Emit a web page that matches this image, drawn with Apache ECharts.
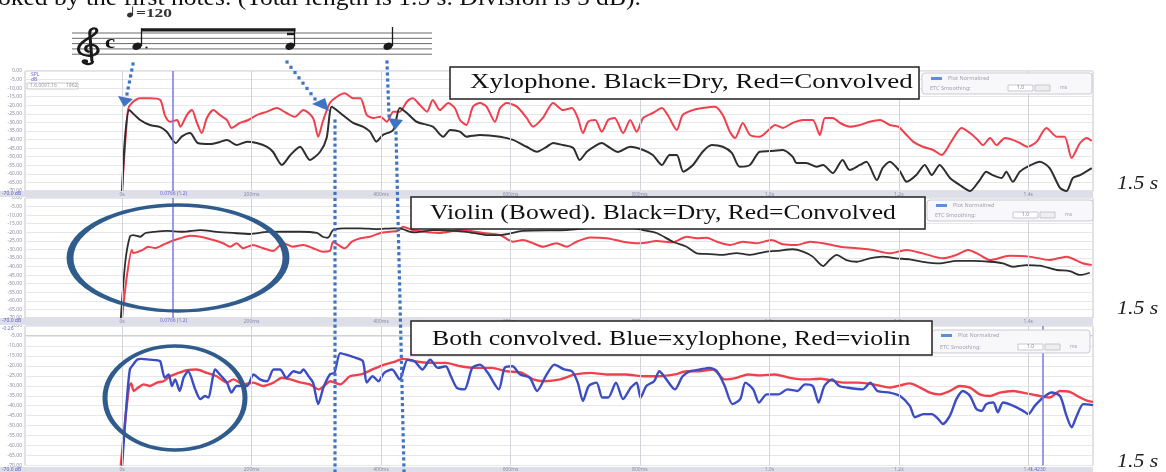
<!DOCTYPE html>
<html>
<head>
<meta charset="utf-8">
<script src="https://cdn.jsdelivr.net/npm/echarts@6/dist/echarts.min.js"></script>
<style>
html, body { margin: 0; padding: 0; background: #fff; }
#chart { width: 1166px; height: 472px; }
</style>
</head>
<body>
<div id="chart"></div>
<script>
// text
const caption = 'oked by the first notes. (Total length is 1.5 s. Division is 5 dB).';
const panelTitles = [
  'Xylophone. Black=Dry, Red=Convolved',
  'Violin (Bowed). Black=Dry, Red=Convolved',
  'Both convolved. Blue=xylophone, Red=violin'
];
const lengthLabel = '1.5 s';
const tempoLabel = '=120';

// time axis (ms) and level axis (dB, 5 dB per division)
const timeTicks = [0, 200, 400, 600, 800, 1000, 1200, 1400];
const cursorMs = [78, 78, 1423];

// panel 1: xylophone
const xyloDry = [[0,-70],[11,-22.8],[28,-28.6],[43,-31.5],[59,-32.7],[69,-35.4],[83,-42],[92,-38.3],[105,-36.2],[117,-42],[136,-42.6],[151,-41.4],[162,-40.2],[177,-43.2],[193,-41.2],[208,-42],[224,-44.2],[233,-47.1],[247,-54.8],[260,-49],[275,-44.2],[290,-51.9],[306,-47.1],[316,-39.1],[324,-20.8],[337,-24.5],[357,-30.3],[372,-32.5],[383,-35.4],[393,-41.2],[403,-37.3],[419,-34.4],[429,-21.6],[440,-24.5],[455,-29.6],[480,-32.5],[496,-38.3],[507,-34.4],[522,-35.4],[532,-38.3],[553,-37.3],[584,-38.3],[604,-40.2],[625,-44.2],[641,-47.1],[656,-44.2],[666,-42],[681,-43.2],[697,-44.9],[707,-51.9],[718,-47.1],[733,-43.2],[741,-42],[754,-44.9],[766,-47.2],[785,-44.2],[805,-46.1],[820,-49],[834,-54.8],[846,-49],[857,-49],[867,-58.7],[882,-54.8],[897,-47.1],[911,-43.2],[928,-44.2],[942,-47.8],[954,-55.8],[970,-54.8],[985,-47.1],[1001,-46.7],[1021,-46.1],[1036,-50],[1042,-53.7],[1057,-53.7],[1073,-55.8],[1083,-54.8],[1098,-59.5],[1113,-51.9],[1124,-57.7],[1140,-54.8],[1150,-52.9],[1166,-63.6],[1175,-56.6],[1186,-52.9],[1202,-58.7],[1212,-64.6],[1227,-60.7],[1240,-54.8],[1251,-60.7],[1263,-54.8],[1279,-62.4],[1294,-66.5],[1310,-70],[1325,-63.6],[1335,-58.7],[1345,-60.7],[1359,-62.4],[1366,-58.7],[1376,-64.6],[1387,-58.7],[1399,-55.8],[1418,-52.9],[1433,-56.6],[1449,-68.2],[1459,-70],[1469,-62.4],[1480,-60.7],[1498,-56.6]];
const xyloWet = [[0,-70],[9,-22.8],[15,-18.7],[28,-15.9],[43,-15.9],[59,-16.9],[66,-25.7],[74,-29.6],[85,-28.6],[90,-32.5],[100,-25.7],[108,-22.8],[115,-29.6],[123,-36.2],[131,-27.4],[141,-22.8],[151,-25.7],[162,-28.6],[169,-33.2],[182,-30.3],[195,-28.6],[208,-25.7],[224,-23.7],[239,-21.6],[254,-24.5],[267,-26.7],[280,-22.8],[295,-27.4],[303,-38.3],[310,-29.6],[321,-18.7],[332,-15],[344,-13],[357,-15.9],[368,-15.9],[378,-25.7],[388,-27.4],[399,-26.7],[409,-29.6],[419,-23.7],[429,-23.7],[440,-17.9],[449,-15.9],[460,-19.8],[471,-23.7],[480,-16.9],[491,-22.8],[504,-18.7],[514,-21.6],[522,-28.6],[532,-31.5],[542,-20.8],[553,-18.7],[563,-20.8],[576,-29.6],[584,-21.6],[594,-18.7],[610,-20.8],[625,-27.4],[635,-32.5],[650,-27.4],[666,-18.7],[681,-22.8],[695,-21.6],[704,-27.4],[712,-36.2],[720,-29.6],[731,-28.6],[741,-35.4],[751,-28.6],[761,-27.4],[774,-36.2],[785,-28.6],[795,-35.4],[805,-27.4],[820,-24.5],[834,-21.6],[843,-25.7],[857,-34.4],[866,-25.7],[882,-22.8],[897,-21.6],[916,-20.8],[928,-25.7],[939,-35.4],[947,-39.1],[959,-30.3],[970,-37.3],[985,-38.3],[996,-35.4],[1009,-31.5],[1021,-33.2],[1036,-30.3],[1052,-28.6],[1067,-28.6],[1078,-37.3],[1086,-27.4],[1098,-27.4],[1109,-30.3],[1124,-32.5],[1140,-31.5],[1155,-29.6],[1171,-28.6],[1186,-31.5],[1199,-32.5],[1212,-37.3],[1222,-41.2],[1237,-44.2],[1253,-46.1],[1266,-49],[1281,-41.2],[1297,-33.2],[1310,-36.2],[1322,-40.2],[1330,-43.2],[1341,-39.1],[1351,-43.2],[1364,-39.1],[1376,-40.2],[1387,-42],[1399,-44.2],[1413,-41.2],[1428,-33.2],[1444,-38.3],[1456,-38.3],[1467,-50.7],[1480,-42],[1490,-39.1],[1498,-40.8]];

// panel 2: bowed violin
const violinDry = [[-2,-70],[5,-37.2],[12,-22.6],[17,-21.6],[28,-22.6],[36,-20.4],[48,-19.8],[69,-19.2],[94,-19.7],[121,-18.7],[146,-19.7],[171,-20.4],[198,-21],[224,-19.8],[249,-19.7],[275,-19.7],[301,-20.4],[310,-22.6],[318,-23.2],[326,-18.7],[341,-17.7],[368,-17.7],[393,-18.1],[419,-17.7],[429,-17.7],[445,-19.7],[455,-20],[480,-18.7],[532,-19.7],[563,-21.6],[584,-21.6],[619,-19.2],[687,-18.7],[723,-17.5],[774,-16.7],[805,-18.7],[826,-20.4],[851,-25.5],[872,-28.4],[888,-32.3],[908,-32.7],[928,-33.2],[949,-32.1],[970,-33.2],[996,-31.3],[1011,-30.9],[1036,-29.9],[1052,-31.3],[1067,-34.2],[1083,-39.7],[1093,-36.2],[1104,-33.2],[1119,-36.2],[1135,-37.2],[1155,-35.2],[1175,-34.2],[1196,-35.2],[1217,-35.8],[1237,-37.2],[1263,-38.1],[1289,-36.7],[1314,-36.7],[1341,-37.2],[1361,-38.1],[1376,-40.1],[1397,-39.1],[1418,-39.5],[1444,-42],[1464,-42.6],[1480,-44.9],[1495,-43.6]];
const violinWet = [[0,-70],[7,-46.7],[15,-30.3],[17,-32.1],[32,-30.3],[40,-28.4],[51,-29.2],[63,-27.4],[74,-25.5],[90,-23.5],[105,-22],[121,-22.6],[141,-24.5],[156,-26.4],[167,-28.4],[177,-26.4],[187,-29.3],[202,-27.4],[218,-29.3],[233,-30.9],[249,-26.4],[264,-28.4],[280,-27.4],[295,-29.3],[310,-31.3],[321,-30.9],[326,-25.5],[334,-27.4],[344,-29.3],[355,-25.5],[368,-23.5],[383,-22.6],[399,-20.4],[414,-19.7],[426,-19.2],[434,-16.7],[449,-18.7],[491,-20.4],[522,-18.7],[558,-20.4],[584,-21.6],[604,-25.5],[619,-24.5],[635,-26.4],[650,-28.4],[671,-26.4],[687,-28.4],[702,-25.5],[723,-23],[749,-23.5],[774,-25.5],[800,-26.4],[826,-25.1],[851,-25.8],[872,-22.6],[888,-23.5],[903,-23.2],[919,-25.5],[939,-27.4],[959,-25.5],[980,-26.4],[1003,-24.5],[1021,-27],[1042,-27.4],[1063,-25.5],[1083,-26.4],[1109,-28.4],[1135,-29.3],[1160,-30.3],[1186,-32.3],[1212,-30.3],[1237,-32.3],[1268,-35.2],[1289,-33.2],[1307,-30.3],[1325,-33.2],[1341,-36.2],[1371,-33.7],[1402,-34.2],[1433,-36.2],[1459,-34.2],[1484,-38.1],[1498,-39.1]];

// panel 3: both convolved
const bothXylo = [[0,-70],[7,-38.4],[12,-21.8],[17,-19.4],[23,-16.9],[30,-16.5],[43,-16.9],[54,-17.2],[59,-17.7],[66,-26],[72,-24.3],[77,-30.1],[82,-26.8],[89,-32.6],[95,-26],[102,-22.7],[113,-31.8],[121,-36.7],[128,-35.1],[133,-35.9],[144,-21.8],[151,-24.3],[162,-28.4],[169,-33.4],[177,-30.1],[193,-30.1],[203,-24.3],[213,-26.8],[224,-27.7],[234,-21.8],[244,-21.8],[254,-26],[265,-22.7],[275,-23.5],[280,-21.8],[288,-25.2],[295,-28.4],[303,-39.2],[311,-30.9],[321,-24.3],[328,-23.5],[337,-13.6],[346,-14.4],[361,-16],[372,-17.7],[378,-28.4],[387,-25.2],[396,-27.7],[405,-23.5],[417,-21.8],[429,-26.8],[441,-16.9],[452,-17.7],[464,-21.8],[476,-16.9],[488,-21],[500,-20.2],[508,-25.2],[517,-30.9],[529,-31.8],[541,-21],[553,-19.4],[565,-23.5],[582,-31.8],[591,-21],[603,-20.2],[615,-24.3],[630,-26],[641,-32.6],[656,-24.3],[668,-19.4],[683,-21.8],[695,-22.7],[704,-28.4],[712,-37.6],[721,-30.1],[733,-28.4],[742,-35.9],[751,-35.9],[763,-28.4],[774,-36.7],[786,-30.9],[795,-28.4],[801,-35.9],[810,-30.1],[822,-27.7],[830,-22.7],[839,-26],[854,-31.8],[866,-25.2],[878,-22.7],[893,-21.8],[907,-21],[919,-22.7],[931,-30.1],[943,-39.2],[955,-36.7],[963,-28.4],[975,-31.8],[984,-38.4],[996,-34.3],[1014,-34.3],[1028,-31.8],[1043,-32.6],[1055,-29.3],[1067,-30.1],[1076,-38.4],[1085,-30.1],[1097,-26.8],[1108,-30.1],[1120,-30.9],[1144,-31.8],[1156,-28.4],[1167,-32.6],[1186,-33.4],[1202,-35.1],[1217,-40.1],[1225,-45.8],[1238,-44.2],[1251,-44.2],[1261,-46.7],[1268,-49.2],[1279,-45],[1289,-36.7],[1299,-32.6],[1310,-35.1],[1320,-41.7],[1328,-42.6],[1335,-39.2],[1346,-38.4],[1353,-43.3],[1361,-38.4],[1377,-40.1],[1392,-42.6],[1400,-44.2],[1410,-40.1],[1423,-35.9],[1436,-33.4],[1449,-35.1],[1459,-45],[1467,-50.8],[1475,-45],[1485,-39.2],[1500,-39.7]];
const bothViolin = [[-2,-70],[5,-46.7],[11,-30.1],[14,-28.8],[18,-32.6],[25,-30.9],[33,-29.3],[43,-30.1],[54,-28.4],[64,-27.7],[74,-25.2],[85,-23.8],[100,-22.2],[115,-21.8],[131,-23.5],[146,-25.2],[162,-28.4],[172,-26.8],[187,-29.3],[203,-28.4],[218,-30.1],[234,-28.4],[247,-26],[260,-26.8],[275,-28.3],[290,-29.3],[304,-31.8],[322,-27.7],[337,-29.3],[352,-25.2],[369,-24.3],[387,-21.8],[405,-19.4],[423,-17.7],[434,-16.5],[452,-17.7],[476,-18.5],[500,-18.5],[523,-20.2],[547,-21],[571,-21],[594,-22.7],[618,-23.5],[635,-26.8],[653,-27.7],[677,-26.8],[700,-24.3],[724,-23.5],[748,-24.3],[777,-24.3],[807,-25.2],[830,-25.2],[854,-24.3],[872,-22.7],[890,-22.7],[913,-21.8],[931,-26.8],[949,-26],[967,-24.3],[984,-24.8],[1008,-24.3],[1032,-26],[1055,-26.8],[1079,-26.5],[1114,-28.4],[1138,-28.4],[1161,-29.3],[1186,-30.9],[1202,-29.8],[1217,-28.8],[1233,-30.9],[1248,-33.4],[1263,-34.3],[1279,-32.6],[1294,-30.1],[1310,-30.9],[1325,-34.3],[1341,-35.1],[1356,-33.4],[1377,-32.6],[1397,-33.8],[1418,-35.1],[1433,-35.9],[1449,-32.6],[1464,-33.1],[1480,-35.9],[1492,-37.6],[1500,-38.1]];

const RED = '#f0404c', DRY = '#2e2e2e', BLUE = '#3b4dc2', DOTS = '#3d74c4', OVAL = '#2f5c8c';
const panels = [
  { top: 71, height: 120 },
  { top: 198, height: 120 },
  { top: 326, height: 141 }
];

const chart = echarts.init(document.getElementById('chart'));

function fmtTime(v) {
  if (v === 0) return '0s';
  return v < 1000 ? v + 'ms' : (v / 1000).toFixed(1) + 's';
}

function curve(name, data, idx, color, width) {
  return {
    name, type: 'line', xAxisIndex: idx, yAxisIndex: idx, data,
    showSymbol: false, smooth: 0.25, silent: true, z: 3,
    lineStyle: { color, width, type: 'solid' },
    itemStyle: { color }
  };
}

// vertical time grid + cursor line for one panel
function guides(idx) {
  const lines = timeTicks.map(t => ({ xAxis: t, lineStyle: { color: '#d4d4dc', width: 1, type: 'solid' } }));
  lines.push({ xAxis: cursorMs[idx], lineStyle: { color: '#7a7ae0', width: 1.5, type: 'solid' } });
  if (idx === 2) lines.push({ yAxis: -4.5, lineStyle: { color: '#cdcdf0', width: 1, type: 'solid' } });
  return {
    type: 'line', xAxisIndex: idx, yAxisIndex: idx, data: [], silent: true, z: 1,
    markLine: { silent: true, symbol: 'none', animation: false, label: { show: false }, lineStyle: { type: 'solid' }, data: lines }
  };
}

function label(x, y, text, size, opt) {
  opt = opt || {};
  return {
    type: 'text', x, y, scaleX: opt.sx || 1, z: opt.z || 60, silent: true,
    style: {
      text, fontSize: size,
      fontFamily: opt.family || '"Liberation Serif", "Times New Roman", serif',
      fontWeight: opt.weight || 'normal', fontStyle: opt.italic ? 'italic' : 'normal',
      fill: opt.color || '#111', align: opt.align || 'left', verticalAlign: 'middle'
    }
  };
}

function tiny(x, y, text, color) {
  return label(x, y, text, 5, { family: '"Noto Sans", sans-serif', color: color || '#9a9aaa', z: 12 });
}

function ctrlBox(x, y, w, h) {
  const row2 = y + h - 6;
  return [
    { type: 'rect', z: 40, shape: { x, y, width: w, height: h, r: 3 }, style: { fill: '#f8f8fa', stroke: '#c9c9d2', lineWidth: 1 } },
    { type: 'rect', z: 41, shape: { x: x + 9, y: y + 4, width: 11, height: 3 }, style: { fill: '#5a8fdc' } },
    label(x + 26, y + 5.5, 'Plot Normalized', 5.5, { family: '"Noto Sans", sans-serif', color: '#a0a0b0', z: 41 }),
    label(x + 8, row2, 'ETC Smoothing:', 5.5, { family: '"Noto Sans", sans-serif', color: '#a0a0b0', z: 41 }),
    { type: 'rect', z: 41, shape: { x: x + 86, y: row2 - 3, width: 25, height: 6 }, style: { fill: '#fff', stroke: '#bbbbc4', lineWidth: 0.8 } },
    label(x + 95, row2, '1.0', 5, { family: '"Noto Sans", sans-serif', color: '#888', z: 42 }),
    { type: 'rect', z: 41, shape: { x: x + 113, y: row2 - 3, width: 15, height: 6 }, style: { fill: '#eee', stroke: '#bbbbc4', lineWidth: 0.8 } },
    label(x + 138, row2, 'ms', 5, { family: '"Noto Sans", sans-serif', color: '#a0a0b0', z: 41 })
  ];
}

const g = [];

// caption line cut at top of the page
g.push(label(-2, -1.5, caption, 23, { sx: 1.11 }));

// staff with the rhythm (dotted eighth, sixteenth, quarter)
[33, 38.3, 43.6, 48.9, 54.2].forEach(y => g.push({ type: 'line', z: 20, shape: { x1: 72, y1: y, x2: 432, y2: y }, style: { stroke: '#6a6a6a', lineWidth: 1 } }));
// treble clef drawn from curve pieces
const clefPieces = [
  [14, 35, 14, 39, 8, 39, 8, 36],
  [13.5, 35, 13, 25, 12.5, 15, 12, 8],
  [12, 8, 11.5, 2, 17, 0.5, 17, 5],
  [17, 5, 17, 10, 5, 14, 4, 22],
  [4, 22, 3, 29, 11, 31, 15, 29],
  [15, 29, 20, 26, 18, 18, 12, 19],
  [12, 19, 8, 20, 8, 25, 12, 26]
];
clefPieces.forEach(c => g.push({ type: 'bezierCurve', x: 73, y: 26, scaleX: 1.4, z: 21,
  shape: { x1: c[0], y1: c[1], cpx1: c[2], cpy1: c[3], cpx2: c[4], cpy2: c[5], x2: c[6], y2: c[7] },
  style: { stroke: '#1a1a1a', lineWidth: 2.2, fill: null } }));
g.push({ type: 'circle', x: 73, y: 26, scaleX: 1.4, z: 21, shape: { cx: 8.5, cy: 35.5, r: 2.3 }, style: { fill: '#1a1a1a' } });
g.push(label(105, 43.5, 'c', 19, { weight: 'bold', sx: 1.2, z: 21 }));
function head(cx) { return { type: 'circle', x: cx, y: 46.3, rotation: 0.35, scaleX: 1.35, z: 21, shape: { cx: 0, cy: 0, r: 3.5 }, style: { fill: '#1a1a1a' } }; }
g.push(head(137), head(290), head(388));
[[141.5, 28.5], [294.5, 28.5], [392.5, 27]].forEach(s => g.push({ type: 'line', z: 21, shape: { x1: s[0], y1: 46, x2: s[0], y2: s[1] }, style: { stroke: '#1a1a1a', lineWidth: 1.3 } }));
g.push({ type: 'rect', z: 21, shape: { x: 141, y: 28.3, width: 154.5, height: 3.2 }, style: { fill: '#1a1a1a' } });
g.push({ type: 'rect', z: 21, shape: { x: 287, y: 32.8, width: 8, height: 2.4 }, style: { fill: '#1a1a1a' } });
g.push({ type: 'circle', z: 21, shape: { cx: 146.5, cy: 47.5, r: 1.1 }, style: { fill: '#1a1a1a' } });
// tempo mark
g.push({ type: 'circle', x: 130, y: 15, rotation: 0.35, scaleX: 1.3, z: 21, shape: { cx: 0, cy: 0, r: 2.3 }, style: { fill: '#333' } });
g.push({ type: 'line', z: 21, shape: { x1: 132.6, y1: 15, x2: 132.6, y2: 6.5 }, style: { stroke: '#333', lineWidth: 1 } });
g.push(label(136, 13.5, tempoLabel, 12, { weight: 'bold', sx: 1.45, color: '#333', z: 21 }));

// x-axis strips under each panel
[[191, 6], [318, 7], [467, 5]].forEach(s => g.push({ type: 'rect', z: 1, shape: { x: 0, y: s[0], width: 1093, height: s[1] }, style: { fill: '#dedee9' } }));
g.push(tiny(2, 194, '-70.0 dB', '#5a5ad0'), tiny(2, 321, '-70.0 dB', '#5a5ad0'), tiny(2, 469.5, '-70.0 dB', '#5a5ad0'));
g.push(tiny(160, 194, '0.0766 (1.2)', '#6b6bd6'), tiny(160, 321, '0.0766 (1.2)', '#6b6bd6'), tiny(1030, 469.5, '1.4230', '#6b6bd6'));
g.push(tiny(2, 329, '-0.26', '#6b6bd6'));

// small controls inside panel 1 top-left
g.push(tiny(31, 75, 'SPL', '#6b6bd6'), tiny(31, 80, 'dB', '#6b6bd6'));
g.push({ type: 'rect', z: 12, shape: { x: 27, y: 83, width: 51, height: 6 }, style: { fill: '#fff', stroke: '#bbbbc4', lineWidth: 0.8 } });
g.push(tiny(30, 86, '1.6.0097.16', '#999'), tiny(66, 86, '1962', '#999'));

// "Plot Normalized / ETC Smoothing" boxes
g.push(...ctrlBox(922, 73, 170, 21), ...ctrlBox(927, 200, 166, 21), ...ctrlBox(932, 330, 158, 23));

// title boxes
[[450, 67, 469, 32, 470, 83, 1.35], [411, 197, 514, 32, 430, 213.5, 1.28], [411, 321, 521, 34, 432, 339.5, 1.29]].forEach((b, i) => {
  g.push({ type: 'rect', z: 55, shape: { x: b[0], y: b[1], width: b[2], height: b[3] }, style: { fill: '#fff', stroke: '#222', lineWidth: 1.5 } });
  g.push(label(b[4], b[5], panelTitles[i], 20, { sx: b[6], z: 56 }));
});

// "1.5 s" length marks
[183.5, 309, 461.5].forEach(y => g.push(label(1117, y, lengthLabel, 19, { italic: true, sx: 1.15, color: '#222' })));

// circled onsets
g.push({ type: 'circle', x: 178, y: 258, scaleX: 2.16, scaleY: 1.06, z: 58, shape: { cx: 0, cy: 0, r: 50 }, style: { fill: null, stroke: OVAL, lineWidth: 3.2 } });
g.push({ type: 'circle', x: 175, y: 398, scaleX: 1.4, scaleY: 1.04, z: 58, shape: { cx: 0, cy: 0, r: 50 }, style: { fill: null, stroke: OVAL, lineWidth: 3.6 } });

// dotted arrows from the notes to the onsets, drawn as square dots
function dotted(x1, y1, x2, y2) {
  const len = Math.hypot(x2 - x1, y2 - y1);
  const n = Math.floor(len / 6);
  for (let k = 0; k <= n; k++) {
    const f = n ? k / n : 0;
    g.push({ type: 'rect', z: 59, silent: true,
      shape: { x: x1 + (x2 - x1) * f - 1.6, y: y1 + (y2 - y1) * f - 1.6, width: 3.2, height: 3.2 },
      style: { fill: DOTS } });
  }
}
dotted(133, 64, 127, 94);
g.push({ type: 'polygon', z: 59, shape: { points: [[118, 96], [133, 99], [124, 107]] }, style: { fill: DOTS } });
dotted(287, 62, 315, 99);
g.push({ type: 'polygon', z: 59, shape: { points: [[312, 104], [325, 98], [329, 111]] }, style: { fill: DOTS } });
dotted(387, 62, 389, 116);
g.push({ type: 'polygon', z: 59, shape: { points: [[388, 118], [403, 120], [395, 130]] }, style: { fill: DOTS } });
dotted(335, 121, 335, 471);
dotted(396, 133, 404, 471);

chart.setOption({
  animation: false,
  backgroundColor: '#fff',
  grid: panels.map(p => ({ left: 25, right: 73, top: p.top, height: p.height, show: true, borderColor: '#c4c4cc', borderWidth: 1, backgroundColor: '#fff' })),
  xAxis: panels.map((p, i) => ({
    type: 'value', gridIndex: i, min: -150, max: 1500, z: 10,
    axisLine: { show: false }, axisTick: { show: false }, splitLine: { show: false },
    axisLabel: { customValues: timeTicks, fontSize: 5, color: '#8c8ca8', margin: 1.5, formatter: fmtTime, fontFamily: 'Noto Sans' }
  })),
  yAxis: panels.map((p, i) => ({
    type: 'value', gridIndex: i, min: -70, max: 0, interval: 5, z: 0,
    axisLine: { show: false }, axisTick: { show: false },
    axisLabel: { fontSize: 5, color: '#8a8aa0', margin: 3, fontFamily: 'Noto Sans', formatter: v => v.toFixed(2) },
    splitLine: { lineStyle: { color: '#e6e6ec', width: 1, type: 'solid' } }
  })),
  series: [
    guides(0), guides(1), guides(2),
    curve('Xylophone convolved', xyloWet, 0, RED, 2),
    curve('Xylophone dry', xyloDry, 0, DRY, 2),
    curve('Violin convolved', violinWet, 1, RED, 2),
    curve('Violin dry', violinDry, 1, DRY, 1.8),
    curve('Violin (both)', bothViolin, 2, RED, 2.4),
    curve('Xylophone (both)', bothXylo, 2, BLUE, 2.4)
  ],
  graphic: { elements: g }
});
</script>
</body>
</html>
